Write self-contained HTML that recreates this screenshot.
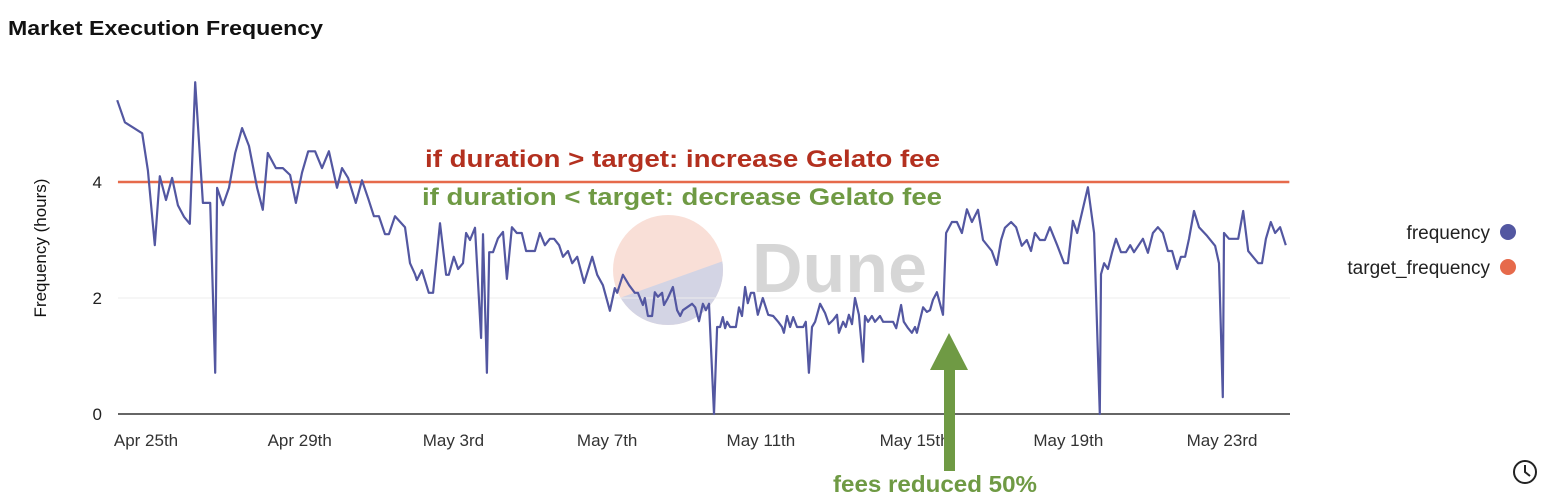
<!DOCTYPE html>
<html><head><meta charset="utf-8"><style>
html,body{margin:0;padding:0;background:#fff;width:1546px;height:502px;overflow:hidden;font-family:"Liberation Sans",sans-serif}
</style></head><body>
<svg id="chart" width="1546" height="502" xmlns="http://www.w3.org/2000/svg" font-family="Liberation Sans, sans-serif">
<text x="8" y="35" font-size="20" font-weight="bold" fill="#111" textLength="315" lengthAdjust="spacingAndGlyphs">Market Execution Frequency</text>
<g id="watermark">
  <clipPath id="wc"><circle cx="668" cy="270" r="55"/></clipPath>
  <circle cx="668" cy="270" r="55" fill="#f8dcd3" opacity="0.9"/>
  <polygon clip-path="url(#wc)" points="600,305 740,255 740,340 600,340" fill="#d3d4e4"/>
  <text x="752" y="292" font-size="70" font-weight="bold" fill="#d6d6d6">Dune</text>
</g>
<g id="grid"></g>
<g id="axes"></g>
<g id="series"></g>
<text transform="translate(46,248) rotate(-90)" text-anchor="middle" font-size="17" fill="#111">Frequency (hours)</text>
<text x="425" y="167" font-size="24" font-weight="bold" fill="#b3301f" textLength="515" lengthAdjust="spacingAndGlyphs">if duration &gt; target: increase Gelato fee</text>
<text x="422" y="205" font-size="24" font-weight="bold" fill="#6f9a44" textLength="520" lengthAdjust="spacingAndGlyphs">if duration &lt; target: decrease Gelato fee</text>
<g>
  <polygon points="949,333 930,370 968,370" fill="#6f9a44"/>
  <rect x="944" y="369" width="11" height="102" fill="#6f9a44"/>
</g>
<text x="833" y="492" font-size="23" font-weight="bold" fill="#6f9a44" textLength="204" lengthAdjust="spacingAndGlyphs">fees reduced 50%</text>
<g>
  <text x="1490" y="239" text-anchor="end" font-size="19" fill="#222">frequency</text>
  <circle cx="1508" cy="232" r="8" fill="#5357a1"/>
  <text x="1490" y="274" text-anchor="end" font-size="19" fill="#222">target_frequency</text>
  <circle cx="1508" cy="267" r="8" fill="#e66a4b"/>
</g>
<g>
  <circle cx="1525" cy="472" r="11" fill="none" stroke="#222" stroke-width="2"/>
  <polyline points="1525,465 1525,472 1530,476" fill="none" stroke="#222" stroke-width="2"/>
</g>
</svg>
<script>
const days=[-0.75,-0.55,-0.10,0.05,0.23,0.36,0.52,0.68,0.83,0.99,1.14,1.28,1.48,1.67,1.80,1.85,2.00,2.16,2.32,2.50,2.68,2.89,3.04,3.17,3.38,3.56,3.75,3.90,4.06,4.22,4.40,4.58,4.76,4.97,5.10,5.26,5.46,5.62,5.78,5.93,6.06,6.22,6.32,6.48,6.74,6.87,7.00,7.05,7.18,7.36,7.47,7.65,7.81,7.88,8.01,8.12,8.25,8.33,8.43,8.56,8.72,8.77,8.87,8.93,9.03,9.16,9.29,9.39,9.52,9.65,9.78,9.89,10.12,10.25,10.38,10.51,10.62,10.75,10.85,10.98,11.09,11.22,11.40,11.61,11.74,11.89,12.07,12.20,12.26,12.41,12.57,12.72,12.80,12.93,12.98,13.06,13.17,13.24,13.32,13.43,13.48,13.58,13.71,13.82,13.90,13.97,14.21,14.29,14.39,14.49,14.57,14.65,14.78,14.86,14.94,15.01,15.07,15.12,15.20,15.35,15.43,15.51,15.59,15.66,15.74,15.82,15.92,16.05,16.19,16.32,16.45,16.55,16.60,16.68,16.76,16.84,16.94,17.10,17.17,17.25,17.33,17.41,17.54,17.67,17.77,17.88,17.98,18.03,18.14,18.21,18.29,18.37,18.45,18.55,18.66,18.71,18.79,18.89,18.97,19.10,19.18,19.44,19.52,19.65,19.72,19.83,19.93,20.01,20.06,20.22,20.32,20.40,20.48,20.58,20.74,20.82,20.97,21.10,21.23,21.36,21.49,21.65,21.78,22.01,22.14,22.25,22.35,22.51,22.64,22.79,22.92,23.03,23.13,23.26,23.39,23.52,23.71,23.89,23.99,24.12,24.23,24.51,24.67,24.82,24.85,24.93,25.03,25.14,25.24,25.37,25.50,25.61,25.71,25.94,26.07,26.20,26.33,26.46,26.59,26.70,26.83,26.93,27.04,27.14,27.27,27.40,27.61,27.82,27.92,28.02,28.05,28.18,28.42,28.55,28.68,28.94,29.04,29.14,29.27,29.38,29.51,29.66];
const frequency=[5.41,5.03,4.84,4.2,2.91,4.1,3.69,4.07,3.6,3.4,3.28,5.72,3.64,3.64,0.71,3.9,3.6,3.9,4.5,4.93,4.62,3.9,3.52,4.5,4.24,4.24,4.12,3.64,4.16,4.53,4.53,4.24,4.53,3.9,4.24,4.07,3.64,4.03,3.72,3.41,3.41,3.1,3.1,3.41,3.22,2.6,2.41,2.31,2.48,2.09,2.09,3.29,2.4,2.4,2.71,2.5,2.6,3.12,3.0,3.21,1.31,3.1,0.71,2.79,2.79,3.03,3.14,2.33,3.22,3.12,3.12,2.81,2.81,3.12,2.91,3.02,3.02,2.91,2.71,2.81,2.6,2.71,2.26,2.71,2.4,2.22,1.78,2.17,2.09,2.4,2.22,2.09,2.09,1.88,2.0,1.69,1.69,2.1,2.02,2.09,1.88,2.0,2.19,1.79,1.69,1.79,1.9,1.84,1.6,1.9,1.79,1.9,0,1.5,1.5,1.67,1.48,1.59,1.5,1.5,1.84,1.69,2.19,1.91,2.09,2.09,1.71,2.0,1.71,1.69,1.59,1.5,1.4,1.69,1.5,1.67,1.5,1.5,1.59,0.71,1.5,1.59,1.9,1.74,1.55,1.62,1.71,1.4,1.59,1.5,1.71,1.55,2.0,1.71,0.9,1.69,1.59,1.69,1.59,1.69,1.59,1.59,1.48,1.88,1.59,1.48,1.4,1.5,1.4,1.84,1.76,1.79,1.97,2.1,1.71,3.12,3.31,3.31,3.12,3.53,3.31,3.52,3.0,2.81,2.57,3.0,3.21,3.31,3.22,2.9,3.0,2.81,3.12,3.0,3.0,3.22,2.91,2.6,2.6,3.33,3.12,3.91,3.12,0,2.41,2.6,2.5,2.79,3.02,2.79,2.79,2.91,2.79,3.02,2.78,3.12,3.22,3.12,2.81,2.81,2.5,2.71,2.71,3.02,3.5,3.22,3.07,2.9,2.6,0.29,3.12,3.02,3.02,3.5,2.81,2.6,2.6,3.02,3.31,3.12,3.22,2.91];
const targetFrequency=[4,4];
const targetDays=[-0.73,29.75];
const xTickDays=[0,4,8,12,16,20,24,28];
const xTickLabels=["Apr 25th","Apr 29th","May 3rd","May 7th","May 11th","May 15th","May 19th","May 23rd"];
const yTicks=[0,2,4];

const NS="http://www.w3.org/2000/svg";
const X0=118,X1=1290;
function xs(d){return 146+d*38.43;}
function ys(v){return 414-v*58;}
function mk(tag,attrs,parent){const e=document.createElementNS(NS,tag);for(const k in attrs)e.setAttribute(k,attrs[k]);parent.appendChild(e);return e;}
const grid=document.getElementById('grid'),axes=document.getElementById('axes'),series=document.getElementById('series');
yTicks.forEach(v=>{
  if(v>0){const g=mk('line',{x1:X0,x2:X1,y1:ys(v),y2:ys(v),stroke:'#ececec','stroke-width':1},grid);
  
  }
  const t=mk('text',{x:102,y:ys(v)+6,'text-anchor':'end','font-size':17,fill:'#222'},axes);
  t.textContent=v;
  
  
});
const base=mk('line',{x1:X0,x2:X1,y1:ys(0),y2:ys(0),stroke:'#333','stroke-width':1.5},axes);


xTickDays.forEach((d,i)=>{
  const t=mk('text',{x:xs(d),y:446,'text-anchor':'middle','font-size':17,fill:'#333'},axes);
  t.textContent=xTickLabels[i];
  
  
});
const tl=mk('line',{x1:xs(targetDays[0]),x2:xs(targetDays[1]),y1:ys(targetFrequency[0]),y2:ys(targetFrequency[1]),stroke:'#e66a4b','stroke-width':2.5},series);


const pts=days.map((d,i)=>xs(d).toFixed(1)+','+ys(frequency[i]).toFixed(1)).join(' ');
const fl=mk('polyline',{points:pts,fill:'none',stroke:'#5357a1','stroke-width':2.2,'stroke-linejoin':'round'},series);


</script>
</body></html>
